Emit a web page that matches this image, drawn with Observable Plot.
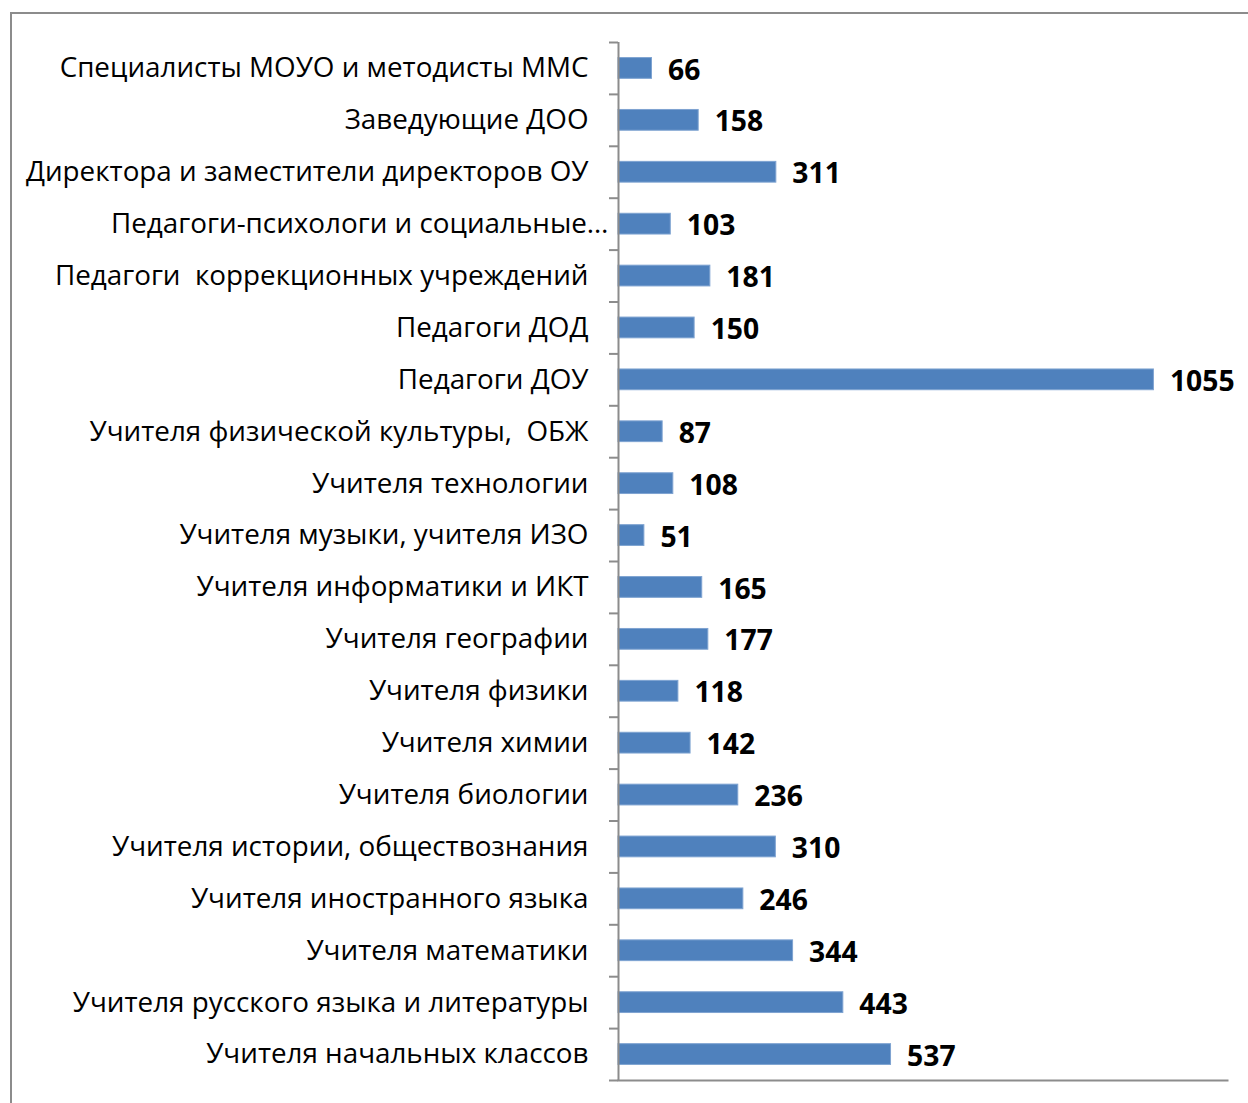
<!DOCTYPE html>
<html>
<head>
<meta charset="utf-8">
<script src="https://cdn.jsdelivr.net/npm/d3@7"></script>
<script src="https://cdn.jsdelivr.net/npm/@observablehq/plot@0.6"></script>
<style>
  html, body { margin: 0; padding: 0; background: #fff; }
  #wrap { position: relative; width: 1248px; height: 1103px; overflow: hidden; }
  #frame { position: absolute; left: 10px; top: 12px; width: 1260px; height: 1200px;
           border-top: 2px solid #8c8c8c; border-left: 2px solid #8c8c8c; box-sizing: border-box; }
  #chart { position: absolute; left: 0; top: 0; }
</style>
</head>
<body>
<div id="wrap"><div id="frame"></div><div id="chart"></div></div>
<script>
const categories = [
  "Специалисты МОУО и методисты ММС",
  "Заведующие ДОО",
  "Директора и заместители директоров ОУ",
  "Педагоги-психологи и социальные…",
  "Педагоги  коррекционных учреждений",
  "Педагоги ДОД",
  "Педагоги ДОУ",
  "Учителя физической культуры,  ОБЖ",
  "Учителя технологии",
  "Учителя музыки, учителя ИЗО",
  "Учителя информатики и ИКТ",
  "Учителя географии",
  "Учителя физики",
  "Учителя химии",
  "Учителя биологии",
  "Учителя истории, обществознания",
  "Учителя иностранного языка",
  "Учителя математики",
  "Учителя русского языка и литературы",
  "Учителя начальных классов"
];
const values = [66, 158, 311, 103, 181, 150, 1055, 87, 108, 51, 165, 177, 118, 142, 236, 310, 246, 344, 443, 537];

const data = categories.map((c, i) => ({category: c, value: values[i]}));

const W = 1248, H = 1103;
const mT = 42, mB = 23, mL = 618, mR = 21;
const step = (H - mT - mB) / categories.length;
const truncated = d => d.category.endsWith("…");

const chart = Plot.plot({
  width: W,
  height: H,
  marginTop: mT,
  marginBottom: mB,
  marginLeft: mL,
  marginRight: mR,
  style: {fontFamily: "'Open Sans', sans-serif", background: "transparent"},
  x: {domain: [0, 1200], axis: null},
  y: {domain: categories, paddingInner: 0.6, paddingOuter: 0.3, round: false, axis: null},
  marks: [
    Plot.barX(data, {x: "value", y: "category", fill: "#4f81bd", stroke: "#7ea3d1", strokeWidth: 1}),
    Plot.text(data, {x: "value", y: "category", text: d => String(d.value), textAnchor: "start",
      dx: 16, dy: 2, fontSize: 28.3, fontWeight: "bold", fill: "#000"}),
    Plot.text(data, {filter: d => !truncated(d), x: 0, y: "category", text: "category", textAnchor: "end",
      dx: -30, dy: 0, fontSize: 27.8, fill: "#000"}),
    Plot.text(data, {filter: truncated, x: 0, y: "category", text: "category", textAnchor: "end",
      dx: -10, dy: 0, fontSize: 27.8, fill: "#000"}),
    Plot.ruleX([0], {stroke: "#8c8c8c", strokeWidth: 2}),
    Plot.axisY(categories, {tickSize: 9, tickFormat: () => "", label: null, stroke: "#8c8c8c", strokeWidth: 2, dy: -step / 2}),
    Plot.axisY([categories[categories.length - 1]], {tickSize: 9, tickFormat: () => "", label: null, stroke: "#8c8c8c", strokeWidth: 2, dy: step / 2}),
    Plot.frame({anchor: "bottom", stroke: "#8c8c8c", strokeWidth: 2})
  ]
});
document.getElementById("chart").appendChild(chart);
</script>
</body>
</html>
